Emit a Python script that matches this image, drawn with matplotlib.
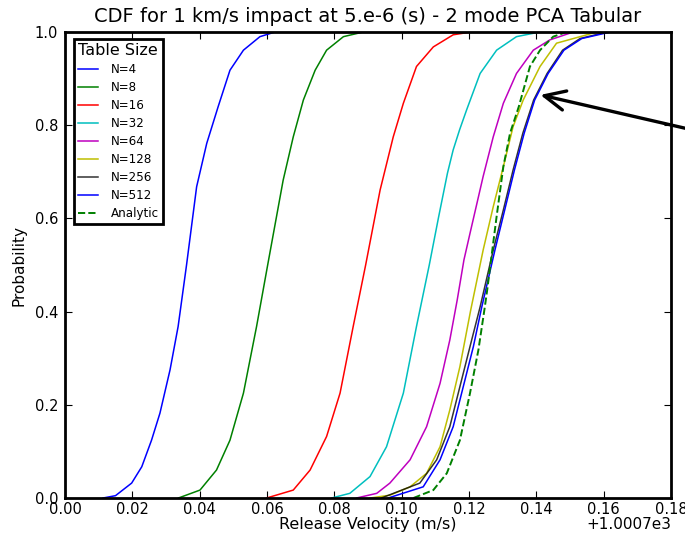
import matplotlib
matplotlib.use("Agg")
import matplotlib.pyplot as plt
from matplotlib.ticker import ScalarFormatter, MultipleLocator

# ---- data (release velocity offsets from 1000.7 m/s vs probability) ----
offset = 1000.7
offset_label = "+1.0007e3"

labels = ["N=4", "N=8", "N=16", "N=32", "N=64", "N=128", "N=256", "N=512", "Analytic"]

n4_x = [0.0113, 0.0150, 0.0198, 0.0228, 0.0257, 0.0282, 0.0312, 0.0336, 0.0361, 0.0391, 0.0421, 0.0455, 0.0490, 0.0530, 0.0579, 0.0624]
n4_p = [0.000, 0.005, 0.032, 0.067, 0.124, 0.182, 0.275, 0.368, 0.500, 0.668, 0.761, 0.840, 0.918, 0.961, 0.990, 1.000]

n8_x = [0.0337, 0.0401, 0.0450, 0.0490, 0.0530, 0.0569, 0.0602, 0.0648, 0.0678, 0.0708, 0.0743, 0.0777, 0.0827, 0.0886]
n8_p = [0.000, 0.017, 0.060, 0.124, 0.225, 0.368, 0.500, 0.682, 0.775, 0.854, 0.918, 0.961, 0.990, 1.000]

n16_x = [0.0599, 0.0678, 0.0728, 0.0777, 0.0817, 0.0856, 0.0893, 0.0936, 0.0975, 0.1005, 0.1044, 0.1094, 0.1153, 0.1206]
n16_p = [0.000, 0.017, 0.060, 0.132, 0.225, 0.368, 0.500, 0.661, 0.775, 0.847, 0.926, 0.968, 0.994, 1.000]

n32_x = [0.0792, 0.0846, 0.0906, 0.0955, 0.1005, 0.1044, 0.1082, 0.1110, 0.1136, 0.1153, 0.1172, 0.1193, 0.1233, 0.1282, 0.1341, 0.1410]
n32_p = [0.000, 0.010, 0.046, 0.110, 0.225, 0.368, 0.500, 0.604, 0.697, 0.747, 0.790, 0.833, 0.911, 0.961, 0.990, 1.000]

n64_x = [0.0866, 0.0926, 0.0965, 0.1025, 0.1074, 0.1114, 0.1143, 0.1165, 0.1185, 0.1203, 0.1242, 0.1272, 0.1302, 0.1341, 0.1391, 0.1440, 0.1510]
n64_p = [0.000, 0.010, 0.032, 0.082, 0.153, 0.246, 0.339, 0.425, 0.511, 0.568, 0.690, 0.775, 0.847, 0.911, 0.961, 0.983, 1.000]

n128_x = [0.0906, 0.0965, 0.1025, 0.1074, 0.1114, 0.1143, 0.1173, 0.1205, 0.1242, 0.1272, 0.1302, 0.1331, 0.1361, 0.1411, 0.1460, 0.1580]
n128_p = [0.000, 0.006, 0.024, 0.053, 0.110, 0.189, 0.282, 0.403, 0.532, 0.625, 0.711, 0.797, 0.854, 0.926, 0.976, 1.000]

n256_x = [0.0940, 0.1054, 0.1104, 0.1143, 0.1173, 0.1203, 0.1233, 0.1272, 0.1302, 0.1331, 0.1360, 0.1392, 0.1432, 0.1478, 0.1530, 0.1610]
n256_p = [0.000, 0.032, 0.082, 0.153, 0.239, 0.325, 0.410, 0.532, 0.618, 0.704, 0.783, 0.854, 0.911, 0.961, 0.986, 1.000]

n512_x = [0.0960, 0.1064, 0.1114, 0.1153, 0.1183, 0.1213, 0.1238, 0.1277, 0.1306, 0.1335, 0.1364, 0.1395, 0.1435, 0.1482, 0.1535, 0.1620]
n512_p = [0.000, 0.024, 0.082, 0.153, 0.239, 0.325, 0.410, 0.532, 0.618, 0.704, 0.783, 0.854, 0.911, 0.961, 0.986, 1.000]

analytic_x = [0.1035, 0.1094, 0.1134, 0.1173, 0.1203, 0.1228, 0.1247, 0.1254, 0.1282, 0.1302, 0.1322, 0.1348, 0.1381, 0.1411, 0.1450, 0.1490]
analytic_p = [0.000, 0.017, 0.053, 0.124, 0.225, 0.318, 0.410, 0.446, 0.604, 0.711, 0.783, 0.840, 0.926, 0.961, 0.990, 1.000]

series_x = [n4_x, n8_x, n16_x, n32_x, n64_x, n128_x, n256_x, n512_x, analytic_x]
series_p = [n4_p, n8_p, n16_p, n32_p, n64_p, n128_p, n256_p, n512_p, analytic_p]

colors = ["#0000ff", "#008000", "#ff0000", "#00bfbf", "#bf00bf", "#bfbf00", "#000000", "#0000ff", "#008000"]
styles = ["-", "-", "-", "-", "-", "-", "-", "-", "--"]

title = "CDF for 1 km/s impact at 5.e-6 (s) - 2 mode PCA Tabular"

# ---- figure ----
fig = plt.figure(figsize=(6.85, 5.39), dpi=100)
ax = fig.add_axes([65/685, 1 - 498/539, 606/685, 466/539])

for xs, ps, c, ls, lab in zip(series_x, series_p, colors, styles, labels):
    ax.plot([offset + v for v in xs], ps, color=c, ls=ls, lw=1.1 if ls == "-" else 1.4,
            alpha=0.8 if lab == "N=256" else 1.0, label=lab)

ax.set_xlim(offset + 0.0, offset + 0.18)
ax.set_ylim(0, 1.0)
fmt = ScalarFormatter(useOffset=offset)
ax.xaxis.set_major_formatter(fmt)
ax.xaxis.set_major_locator(MultipleLocator(0.02))
ax.yaxis.set_major_locator(MultipleLocator(0.2))
ax.tick_params(direction="in", top=True, right=True, labelsize=10.5, length=5, width=0.8)
ax.tick_params(axis="x", pad=3)
ax.tick_params(axis="y", pad=5)
ax.xaxis.get_offset_text().set_visible(False)
ax.text(1.0, -0.04, offset_label, transform=ax.transAxes, ha="right", va="top", fontsize=11)
for sp in ax.spines.values():
    sp.set_linewidth(2.0)

ax.set_title(title, fontsize=14, pad=7)
ax.set_xlabel("Release Velocity (m/s)", fontsize=11.5, labelpad=0)
ax.set_ylabel("Probability", fontsize=11, labelpad=6)

leg = ax.legend(loc="upper left", title="Table Size", fontsize=8.6, title_fontsize=11.5,
                fancybox=False, framealpha=1, edgecolor="black", handlelength=1.7,
                handletextpad=1.0, labelspacing=0.42, borderpad=0.35,
                bbox_to_anchor=(0.005, 0.998))
leg.get_frame().set_linewidth(2.0)

ax.annotate("", xy=(offset + 0.1412, 0.865), xycoords="data",
            xytext=(1.035, 0.79), textcoords="axes fraction",
            arrowprops=dict(arrowstyle="->,head_length=1.5,head_width=0.7", lw=2.4,
                            color="black", shrinkA=0, shrinkB=0),
            annotation_clip=False)

fig.savefig("out.png", dpi=100)
